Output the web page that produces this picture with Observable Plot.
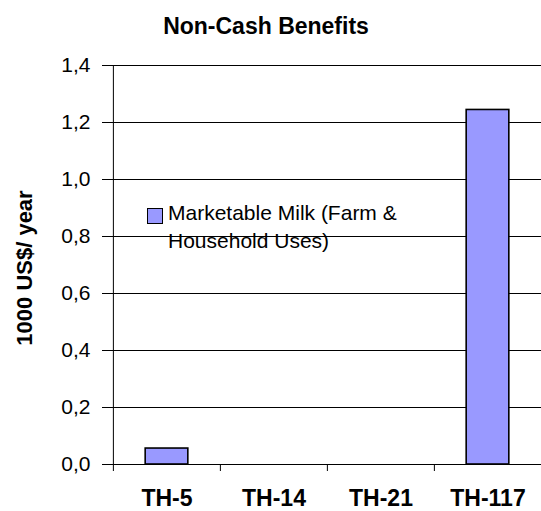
<!DOCTYPE html>
<html>
<head>
<meta charset="utf-8">
<script src="https://cdn.jsdelivr.net/npm/d3@7"></script>
<script src="https://cdn.jsdelivr.net/npm/@observablehq/plot@0.6"></script>
<style>
  body { margin: 0; background: #fff; font-family: "Liberation Sans", Arial, sans-serif; }
  #wrap { position: relative; width: 541px; height: 511px; }
  #wrap svg { position: absolute; left: 0; top: 0; }
  #title { position: absolute; left: 0; top: 15px; width: 532px; text-align: center; font-size: 23px; line-height: 23px; font-weight: bold; color: #000; }
  #legend { position: absolute; left: 147px; top: 199px; font-size: 21px; line-height: 28px; color: #000; display: flex; align-items: flex-start; }
  #legend .sw { width: 16px; height: 16px; background: #9999FF; border: 1.5px solid #000; margin-top: 9px; margin-right: 5px; flex: none; box-sizing: border-box; }
</style>
</head>
<body>
<div id="wrap"></div>
<script>
const categories = ["TH-5", "TH-14", "TH-21", "TH-117"];
const milkValues = [0.056, 0, 0, 1.244];
const yTicks = [0, 0.2, 0.4, 0.6, 0.8, 1.0, 1.2, 1.4];
const seriesName = "Marketable Milk (Farm & Household Uses)";
const legendLines = ["Marketable Milk (Farm &", "Household Uses)"];
const title = "Non-Cash Benefits";
const yLabel = "1000 US$/ year";

const data = categories.map((c, i) => ({category: c, value: milkValues[i], series: seriesName}));

const W = 541, H = 511, mL = 112, mR = 0, mT = 65, mB = 47;
const halfBand = (W - mL - mR) / categories.length / 2;
const fmt = d => d3.format(".1f")(d).replace(".", ",");

const chart = Plot.plot({
  width: W, height: H,
  marginLeft: mL, marginRight: mR, marginTop: mT, marginBottom: mB,
  style: {fontFamily: '"Liberation Sans", Arial, sans-serif', fontSize: "21px", color: "#000", background: "#fff", overflow: "visible"},
  x: {domain: categories, padding: 0, label: null},
  y: {domain: [0, 1.4], label: null},
  marks: [
    Plot.gridY(yTicks, {stroke: "#000", strokeOpacity: 1, strokeWidth: 1}),
    Plot.axisY(yTicks, {tickFormat: fmt, tickSize: 10, tickPadding: 12, fontSize: 21, label: null}),
    Plot.ruleX([categories[0]], {x: d => d, y1: 0, y2: 1.4, dx: -halfBand, stroke: "#000"}),
    Plot.barY(data, {x: "category", y: "value", fill: "#9999FF", stroke: "#000", strokeWidth: 1.6, insetLeft: halfBand * 0.6, insetRight: halfBand * 0.6}),
    Plot.axisX({tickSize: 7, dx: -halfBand, tickFormat: () => "", label: null}),
    Plot.axisX({tickSize: 0, tickPadding: 25, fontSize: 23, fontWeight: "bold", label: null}),
    Plot.text([yLabel], {frameAnchor: "left", textAnchor: "middle", dx: -88, dy: 3, rotate: -90, fontSize: 22, fontWeight: "bold"})
  ]
});

const wrap = document.getElementById("wrap");
wrap.appendChild(chart);

const t = document.createElement("div");
t.id = "title";
t.textContent = title;
wrap.appendChild(t);

const legend = document.createElement("div");
legend.id = "legend";
const sw = document.createElement("div");
sw.className = "sw";
const txt = document.createElement("div");
legendLines.forEach((l, i) => {
  if (i) txt.appendChild(document.createElement("br"));
  txt.appendChild(document.createTextNode(l));
});
legend.appendChild(sw);
legend.appendChild(txt);
wrap.appendChild(legend);
</script>
</body>
</html>
